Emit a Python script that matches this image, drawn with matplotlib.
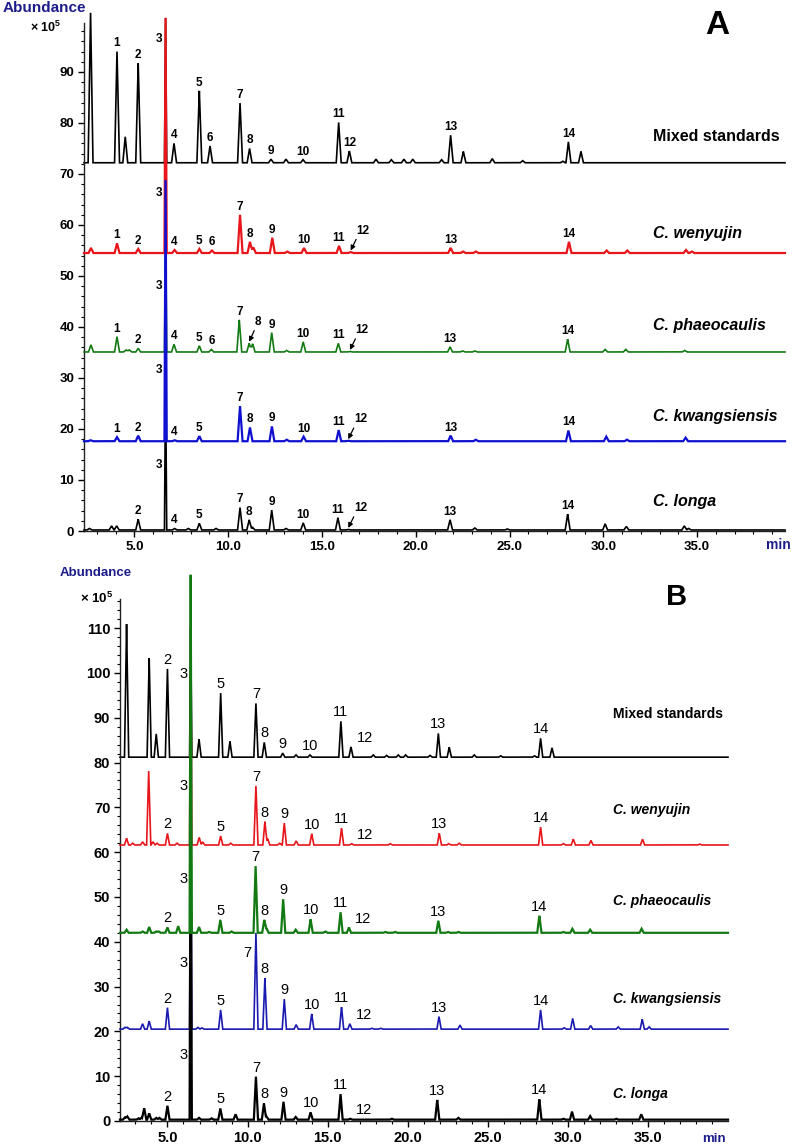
import numpy as np
import matplotlib
matplotlib.use('Agg')
import matplotlib.pyplot as plt
from matplotlib.ticker import MultipleLocator, FormatStrFormatter

plt.rcParams['font.family'] = ['Liberation Sans', 'DejaVu Sans']
plt.rcParams['mathtext.fontset'] = 'custom'
plt.rcParams['mathtext.rm'] = 'Liberation Sans'
plt.rcParams['mathtext.bf'] = 'Liberation Sans:bold'
plt.rcParams['mathtext.default'] = 'bf'

# ---------------- DATA ----------------
sample_names = ['Mixed standards', 'C. wenyujin', 'C. phaeocaulis', 'C. kwangsiensis', 'C. longa']

# Panel A (abundance x 10^5, retention time in min)
A_base = [72.2, 54.5, 35.1, 17.6, 0.2]

A_mix_rt = [2.66, 4.07, 4.51, 5.20, 6.66, 7.11, 8.46, 9.03, 10.63, 11.14, 12.28, 13.08, 13.99, 15.89, 16.46,
            17.88, 18.70, 19.37, 19.84, 21.38, 21.86, 22.54, 24.08, 25.70, 27.84, 28.14, 28.81]
A_mix_ap = [101.6, 94.0, 77.3, 91.7, 100.6, 76.0, 86.3, 75.5, 83.9, 75.0, 72.9, 72.9, 72.8, 80.1, 74.5,
            72.9, 72.8, 72.9, 72.9, 72.8, 77.6, 74.4, 73.0, 72.6, 72.5, 76.3, 74.4]
A_mix_lb = ['', '1', '', '2', '3', '4', '5', '6', '7', '8', '9', '', '10', '11', '12',
            '', '', '', '', '', '13', '', '', '', '', '14', '']

A_wen_rt = [2.68, 4.07, 5.20, 6.66, 7.14, 8.46, 9.13, 10.63, 11.16, 11.34, 12.35, 13.15, 14.04, 15.91, 16.53,
            21.86, 22.52, 23.20, 28.17, 30.18, 31.28, 34.41, 34.72]
A_wen_ap = [55.5, 56.4, 55.3, 100.6, 55.1, 55.3, 55.0, 62.0, 56.7, 55.6, 57.5, 54.8, 55.5, 55.9, 54.7,
            55.5, 54.8, 54.8, 56.7, 55.0, 55.0, 55.1, 54.8]
A_wen_lb = ['', '1', '2', '3', '4', '5', '6', '7', '8', '', '9', '', '10', '11', '12',
            '13', '', '', '14', '', '', '', '']

A_pha_rt = [2.68, 4.07, 4.55, 4.72, 5.20, 6.66, 7.11, 8.46, 9.10, 10.59, 11.12, 11.30, 12.32, 13.12, 14.00,
            15.87, 16.49, 21.83, 22.50, 23.15, 28.10, 30.10, 31.20, 34.34]
A_pha_ap = [36.5, 38.1, 35.5, 35.5, 35.8, 60.0, 36.6, 36.3, 35.6, 41.4, 36.8, 36.7, 38.9, 35.4, 37.1,
            36.8, 35.2, 36.1, 35.3, 35.3, 37.6, 35.6, 35.6, 35.4]
A_pha_lb = ['', '1', '', '', '2', '3', '4', '5', '6', '7', '8', '', '9', '', '10',
            '11', '12', '13', '', '', '14', '', '', '']

A_kwa_rt = [2.66, 4.07, 5.20, 6.66, 7.14, 8.46, 10.63, 11.16, 12.33, 13.12, 14.02, 15.89, 16.40, 21.86, 23.20,
            28.14, 30.16, 31.26, 34.39]
A_kwa_ap = [17.8, 18.4, 18.7, 68.8, 17.8, 18.6, 24.5, 20.3, 20.5, 17.9, 18.5, 19.8, 17.7, 18.7, 17.9,
            19.7, 18.5, 17.9, 18.3]
A_kwa_lb = ['', '1', '2', '3', '4', '5', '7', '8', '9', '', '10', '11', '12', '13', '',
            '14', '', '', '']

A_lon_rt = [2.60, 3.78, 4.05, 5.20, 6.66, 7.14, 7.87, 8.46, 9.35, 10.63, 11.12, 11.30, 12.32, 13.08, 14.00,
            15.85, 16.40, 21.83, 23.15, 24.88, 28.10, 30.10, 31.23, 34.32, 34.55]
A_lon_ap = [0.5, 1.0, 1.0, 2.3, 30.0, 0.5, 0.5, 1.5, 0.5, 4.6, 2.2, 0.7, 4.1, 0.5, 1.6,
            2.6, 0.3, 2.2, 0.6, 0.4, 3.3, 1.4, 0.9, 1.0, 0.5]
A_lon_lb = ['', '', '', '2', '3', '4', '', '5', '', '7', '8', '', '9', '', '10',
            '11', '12', '13', '', '', '14', '', '', '', '']

# Panel B
B_base = [81.2, 61.6, 42.0, 20.5, 0.3]

B_mix_rt = [2.45, 3.86, 4.30, 5.00, 6.45, 6.97, 8.32, 8.90, 10.52, 11.04, 12.19, 13.02, 13.89, 15.82, 16.45,
            17.84, 18.67, 19.40, 19.86, 21.38, 21.90, 22.58, 24.14, 25.79, 27.90, 28.28, 28.99]
B_mix_ap = [110.9, 103.3, 86.4, 100.9, 110.0, 85.2, 95.5, 84.7, 93.2, 84.5, 82.1, 81.7, 81.7, 89.2, 83.5,
            81.7, 81.6, 81.7, 81.7, 81.6, 86.5, 83.4, 81.7, 81.5, 81.5, 85.4, 83.3]
B_mix_lb = ['', '', '', '2', '3', '', '5', '', '7', '8', '9', '', '10', '11', '12',
            '', '', '', '', '', '13', '', '', '', '', '14', '']

B_wen_rt = [2.45, 2.83, 3.45, 3.83, 4.10, 4.35, 5.00, 5.60, 6.45, 6.98, 7.20, 8.32, 8.95, 10.52, 11.08, 11.25,
            12.00, 12.29, 13.03, 14.00, 15.86, 16.49, 18.90, 21.96, 22.55, 23.20, 28.28, 29.70, 30.32, 31.42,
            34.64, 38.20]
B_wen_ap = [63.1, 62.0, 62.3, 78.1, 62.3, 62.0, 64.2, 62.0, 110.0, 63.3, 62.2, 63.6, 62.0, 74.8, 66.8, 63.0,
            62.0, 66.5, 62.5, 64.1, 65.3, 61.9, 61.9, 64.2, 61.9, 62.0, 65.6, 61.9, 62.9, 62.6,
            62.9, 61.8]
B_wen_lb = ['', '', '', '', '', '', '2', '', '3', '', '', '5', '', '7', '8', '',
            '', '9', '', '10', '11', '12', '', '13', '', '', '14', '', '', '',
            '', '']

B_pha_rt = [2.45, 3.45, 3.86, 4.30, 4.45, 5.00, 5.67, 6.45, 6.97, 7.60, 8.30, 9.00, 10.50, 11.04, 11.18,
            12.22, 13.00, 13.93, 14.85, 15.80, 16.32, 18.60, 19.20, 21.90, 22.50, 23.15, 28.20, 29.70, 30.26,
            31.37, 34.58]
B_pha_ap = [42.7, 42.3, 43.3, 42.3, 42.3, 43.2, 43.5, 121.9, 43.3, 42.2, 44.9, 42.3, 56.9, 44.9, 43.0,
            49.5, 42.7, 45.0, 42.3, 46.6, 43.2, 42.2, 42.2, 44.7, 42.2, 42.2, 45.8, 42.2, 42.9,
            42.7, 42.9]
B_pha_lb = ['', '', '', '', '', '2', '', '3', '', '', '5', '', '7', '8', '',
            '9', '', '10', '', '11', '12', '', '', '13', '', '', '14', '', '',
            '', '']

B_kwa_rt = [2.35, 2.50, 3.45, 3.86, 5.00, 6.45, 6.90, 7.15, 8.32, 10.52, 11.08, 12.29, 13.03, 14.00, 15.86,
            16.38, 17.75, 18.30, 21.94, 23.25, 28.28, 29.75, 30.28, 31.40, 33.12, 34.62, 35.05]
B_kwa_ap = [20.9, 20.9, 21.7, 22.3, 25.3, 70.0, 20.9, 20.8, 24.8, 42.0, 31.9, 27.2, 21.5, 23.9, 25.4,
            21.7, 20.7, 20.7, 23.3, 21.4, 24.8, 20.8, 22.9, 21.3, 21.0, 22.7, 21.0]
B_kwa_lb = ['', '', '', '', '2', '3', '', '', '5', '7', '8', '9', '', '10', '11',
            '12', '', '', '13', '', '14', '', '', '', '', '', '']

B_lon_rt = [2.35, 2.50, 3.20, 3.40, 3.55, 3.86, 4.30, 4.50, 5.00, 6.45, 6.97, 7.75, 8.30, 9.25, 10.52,
            11.02, 11.18, 12.24, 13.00, 13.93, 15.80, 16.40, 19.00, 21.83, 23.15, 28.20, 29.70, 30.24,
            31.37, 33.00, 34.56]
B_lon_ap = [0.8, 1.0, 0.6, 0.8, 2.8, 1.7, 0.7, 0.7, 3.4, 77.2, 0.7, 0.6, 2.8, 1.5, 9.9,
            3.9, 1.0, 4.3, 0.9, 1.9, 6.0, 0.5, 0.5, 4.7, 0.7, 4.8, 0.5, 2.1,
            1.1, 0.5, 1.5]
B_lon_lb = ['', '', '', '', '', '', '', '', '2', '3', '', '', '5', '', '7',
            '8', '', '9', '', '10', '11', '12', '', '13', '', '14', '', '',
            '', '', '']

A_x_ticks = [5.0, 10.0, 15.0, 20.0, 25.0, 30.0, 35.0]
A_y_ticks = [0, 10, 20, 30, 40, 50, 60, 70, 80, 90]
B_x_ticks = [5.0, 10.0, 15.0, 20.0, 25.0, 30.0, 35.0]
B_y_ticks = [0, 10, 20, 30, 40, 50, 60, 70, 80, 90, 100, 110]

# ---------------- FIGURE ----------------
W, H = 792, 1147
fig = plt.figure(figsize=(W / 100, H / 100), dpi=100)
NAVY = '#1c1c8a'


def px_axes(l, t, r, b):
    return fig.add_axes([l / W, 1 - b / H, (r - l) / W, (b - t) / H])


def ftext(x, y, s, **kw):
    fig.text(x / W, 1 - y / H, s, **kw)


def draw_trace(ax, rts, aps, lbs, base, color, xlim, w, w3, z, lw=1.1):
    rts = np.asarray(rts, float)
    hs = np.asarray(aps, float) - base
    ws = np.array([w3 if l == '3' else w for l in lbs])
    t = np.unique(np.concatenate([np.linspace(xlim[0], xlim[1], 6000), rts, rts - ws, rts + ws]))
    t = t[(t >= xlim[0]) & (t <= xlim[1])]
    y = np.full_like(t, base)
    for r, h, ww in zip(rts, hs, ws):
        y += h * np.clip(1 - np.abs(t - r) / ww, 0, None)
    ax.plot(t, y, color=color, lw=lw, zorder=z, clip_on=False, solid_joinstyle='miter')


def style_axis(ax, xlim, ylim, xt, yt, fs):
    ax.set_xlim(*xlim)
    ax.set_ylim(*ylim)
    for s in ['top', 'right']:
        ax.spines[s].set_visible(False)
    for s in ['left', 'bottom']:
        ax.spines[s].set_linewidth(1.0)
        ax.spines[s].set_color('#222222')
    ax.set_xticks(xt)
    ax.set_yticks(yt)
    ax.xaxis.set_major_formatter(FormatStrFormatter('%.1f'))
    ax.xaxis.set_minor_locator(MultipleLocator(1))
    ax.yaxis.set_minor_locator(MultipleLocator(2))
    ax.tick_params(which='major', direction='out', length=4, width=1, labelsize=fs, pad=3)
    ax.tick_params(which='minor', direction='out', length=2, width=0.8)
    for lab in ax.get_xticklabels() + ax.get_yticklabels():
        lab.set_fontweight('bold')
    ax.set_facecolor('none')


# ---------- Panel A ----------
axA = px_axes(84, 23, 785, 531)
A_xlim = (2.31, 39.69)
style_axis(axA, A_xlim, (0, 99.6), A_x_ticks, A_y_ticks, 9.5)

A_traces = [(A_mix_rt, A_mix_ap, A_mix_lb), (A_wen_rt, A_wen_ap, A_wen_lb), (A_pha_rt, A_pha_ap, A_pha_lb),
            (A_kwa_rt, A_kwa_ap, A_kwa_lb), (A_lon_rt, A_lon_ap, A_lon_lb)]
A_colors = ['black', '#e8161b', '#137a13', '#1010d0', 'black']
A_z = [2, 5, 4, 6, 3]
A_dy3 = [24.3, 11.8, 12.9, 14.0, 12.7]
A_arrows = {(1, '12'), (2, '8'), (2, '12'), (3, '12'), (4, '12')}
A_label_y = [77.3, 58.4, 40.3, 22.4, 5.7]

for i, (rt, ap, lb) in enumerate(A_traces):
    draw_trace(axA, rt, ap, lb, A_base[i], A_colors[i], A_xlim, 0.13, 0.06, A_z[i],
               lw=1.6 if i in (1, 3) else 1.2)
    for r, a, l in zip(rt, ap, lb):
        if not l:
            continue
        if l == '3':
            axA.annotate('3', xy=(r, A_base[i] + A_dy3[i]), xytext=(-2.5, 0), textcoords='offset points',
                         ha='right', va='center', fontsize=8.5, fontweight='bold', zorder=10)
        elif (i, l) in A_arrows:
            axA.annotate(l, xy=(r, a + 0.3), xytext=(4, 10), textcoords='offset points',
                         ha='left', va='bottom', fontsize=8.5, fontweight='bold', zorder=10,
                         arrowprops=dict(arrowstyle='-|>', color='black', lw=0.9, mutation_scale=7,
                                         shrinkA=0, shrinkB=0, relpos=(0.1, 0.0)))
        else:
            axA.annotate(l, xy=(r, a), xytext=(0, 1.5), textcoords='offset points',
                         ha='center', va='bottom', fontsize=8.5, fontweight='bold', zorder=10)
    axA.text(32.65, A_label_y[i], sample_names[i], fontsize=11.5, fontweight='bold',
             fontstyle='normal' if i == 0 else 'italic', ha='left', va='center')

ftext(3, 8, 'Abundance', fontsize=11, fontweight='bold', color=NAVY, ha='left', va='center')
ftext(30, 27, '× 10$^5$', fontsize=9, fontweight='bold', ha='left', va='center')
ftext(717, 25, 'A', fontsize=24, fontweight='bold', ha='center', va='center')
ftext(778, 545, 'min', fontsize=10, fontweight='bold', color=NAVY, ha='center', va='center')

# ---------- Panel B ----------
axB = px_axes(120, 599, 728, 1121)
B_xlim = (2.04, 39.97)
style_axis(axB, B_xlim, (0, 116.5), B_x_ticks, B_y_ticks, 10.5)

B_traces = [(B_mix_rt, B_mix_ap, B_mix_lb), (B_wen_rt, B_wen_ap, B_wen_lb), (B_pha_rt, B_pha_ap, B_pha_lb),
            (B_kwa_rt, B_kwa_ap, B_kwa_lb), (B_lon_rt, B_lon_ap, B_lon_lb)]
B_colors = ['black', '#e8161b', '#137a13', '#1a1ab0', 'black']
B_z = [2, 3, 6, 4, 5]
B_dy3 = [18.5, 13.2, 12.0, 14.8, 14.4]
B_label_y = [90.8, 69.4, 49.2, 27.2, 6.0]

for i, (rt, ap, lb) in enumerate(B_traces):
    draw_trace(axB, rt, ap, lb, B_base[i], B_colors[i], B_xlim, 0.13, 0.07, B_z[i],
               lw=1.6 if i in (2, 4) else 1.2)
    for r, a, l in zip(rt, ap, lb):
        if not l:
            continue
        if l == '3':
            axB.annotate('3', xy=(r, B_base[i] + B_dy3[i]), xytext=(-2.5, 0), textcoords='offset points',
                         ha='right', va='center', fontsize=10.5, zorder=10)
        elif i == 3 and l == '7':
            axB.annotate('7', xy=(r, B_base[i] + 17.0), xytext=(-3, 0), textcoords='offset points',
                         ha='right', va='center', fontsize=10.5, zorder=10)
        elif l == '12':
            axB.annotate(l, xy=(r, a), xytext=(4, 1), textcoords='offset points',
                         ha='left', va='bottom', fontsize=10.5, zorder=10)
        else:
            axB.annotate(l, xy=(r, a), xytext=(0, 1.5), textcoords='offset points',
                         ha='center', va='bottom', fontsize=10.5, zorder=10)
    axB.text(32.8, B_label_y[i], sample_names[i], fontsize=10, fontweight='bold',
             fontstyle='normal' if i == 0 else 'italic', ha='left', va='center')

ftext(60, 573, 'Abundance', fontsize=9.5, fontweight='bold', color=NAVY, ha='left', va='center')
ftext(80, 598, '× 10$^5$', fontsize=9.5, fontweight='bold', ha='left', va='center')
ftext(677, 597, 'B', fontsize=21, fontweight='bold', ha='center', va='center')
ftext(714, 1139, 'min', fontsize=9.5, fontweight='bold', color=NAVY, ha='center', va='center')

fig.savefig('out.png', dpi=100, facecolor='white')
